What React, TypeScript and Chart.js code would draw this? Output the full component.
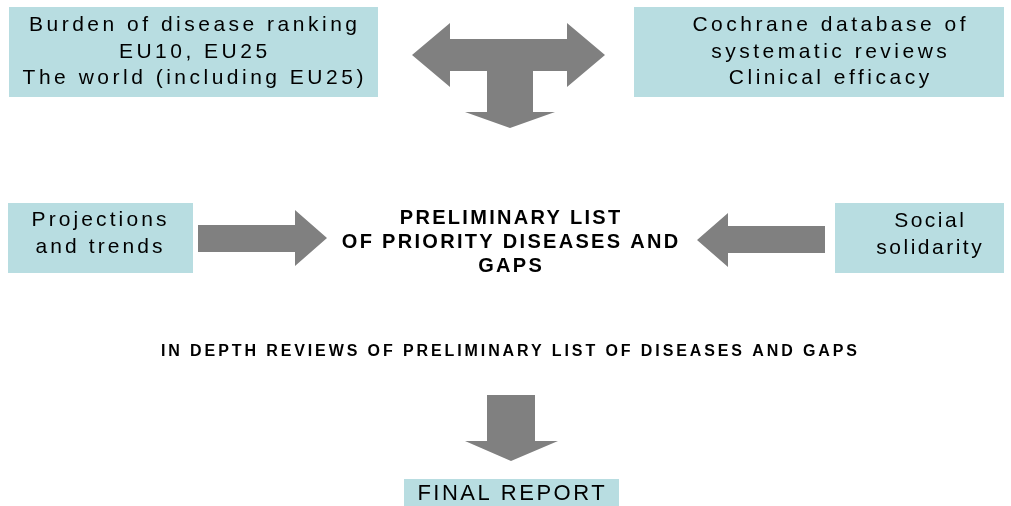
import { useEffect, useRef } from "react";
import { Chart, registerables } from "chart.js";

Chart.register(...registerables);

// ---- content (text of the diagram) ----
const topLeftLines = ["Burden of disease ranking", "EU10, EU25", "The world (including EU25)"];
const topRightLines = ["Cochrane database of", "systematic reviews", "Clinical efficacy"];
const midLeftLines = ["Projections", "and trends"];
const midRightLines = ["Social", "solidarity"];
const centerLines = ["PRELIMINARY LIST", "OF PRIORITY DISEASES AND", "GAPS"];
const reviewLines = ["IN DEPTH REVIEWS OF PRELIMINARY LIST OF DISEASES AND GAPS"];
const finalLines = ["FINAL REPORT"];

// ---- layout (diagram coordinates, 1011 x 506 space) ----
const W = 1011;
const H = 506;
const BOX_FILL = "#B8DDE1";
const ARROW_FILL = "#808080";

type Box = { x0: number; y0: number; x1: number; y1: number; fill: boolean };
type TextBlock = { lines: string[]; cx: number; ys: number[]; font: string; spacing: number; box?: Box };

const blocks: TextBlock[] = [
  { lines: topLeftLines, cx: 193, ys: [25, 52, 78], font: "21px 'Liberation Sans', Arial, sans-serif", spacing: 3.5, box: { x0: 9, y0: 7, x1: 378, y1: 97, fill: true } },
  { lines: topRightLines, cx: 829, ys: [25, 52, 78], font: "21px 'Liberation Sans', Arial, sans-serif", spacing: 3.5, box: { x0: 634, y0: 7, x1: 1004, y1: 97, fill: true } },
  { lines: midLeftLines, cx: 99, ys: [220, 247], font: "21px 'Liberation Sans', Arial, sans-serif", spacing: 3.1, box: { x0: 8, y0: 203, x1: 193, y1: 273, fill: true } },
  { lines: midRightLines, cx: 929, ys: [221, 248], font: "21px 'Liberation Sans', Arial, sans-serif", spacing: 2.5, box: { x0: 835, y0: 203, x1: 1004, y1: 273, fill: true } },
  { lines: centerLines, cx: 510, ys: [218, 242, 266], font: "bold 20px 'Liberation Sans', Arial, sans-serif", spacing: 2.3 },
  { lines: reviewLines, cx: 509, ys: [352], font: "bold 16px 'Liberation Sans', Arial, sans-serif", spacing: 2.9 },
  { lines: finalLines, cx: 511, ys: [494], font: "22px 'Liberation Sans', Arial, sans-serif", spacing: 2.5, box: { x0: 404, y0: 479, x1: 619, y1: 506, fill: true } },
];

const arrows: number[][][] = [
  // T-shaped double arrow with downward stem
  [
    [412, 55], [450, 23], [450, 39], [567, 39], [567, 23], [605, 55], [567, 87], [567, 71],
    [533, 71], [533, 112], [555, 112], [510, 128], [465, 112], [487, 112], [487, 71],
    [450, 71], [450, 87],
  ],
  // right-pointing arrow
  [[198, 225], [295, 225], [295, 210], [327, 238], [295, 266], [295, 252], [198, 252]],
  // left-pointing arrow
  [[825, 226], [728, 226], [728, 213], [697, 240], [728, 267], [728, 253], [825, 253]],
  // down arrow
  [[487, 395], [535, 395], [535, 441], [558, 441], [511, 461], [465, 441], [487, 441]],
];

const diagramPlugin = {
  id: "diagram",
  afterDatasetsDraw(chart: any) {
    const ctx = chart.ctx as CanvasRenderingContext2D;
    const xs = chart.scales.x;
    const ys = chart.scales.y;
    const px = (v: number) => xs.getPixelForValue(v);
    const py = (v: number) => ys.getPixelForValue(v);
    ctx.save();
    // boxes
    for (const b of blocks) {
      if (!b.box) continue;
      ctx.fillStyle = BOX_FILL;
      const x0 = px(b.box.x0), x1 = px(b.box.x1), y0 = py(b.box.y0), y1 = py(b.box.y1);
      ctx.fillRect(x0, y0, x1 - x0, y1 - y0);
    }
    // arrows
    ctx.fillStyle = ARROW_FILL;
    for (const a of arrows) {
      ctx.beginPath();
      a.forEach((p, i) => {
        if (i === 0) ctx.moveTo(px(p[0]), py(p[1]));
        else ctx.lineTo(px(p[0]), py(p[1]));
      });
      ctx.closePath();
      ctx.fill();
    }
    // text
    ctx.fillStyle = "#000000";
    ctx.textAlign = "center";
    ctx.textBaseline = "middle";
    for (const b of blocks) {
      ctx.font = b.font;
      (ctx as any).letterSpacing = `${b.spacing}px`;
      b.lines.forEach((line, i) => {
        ctx.fillText(line, px(b.cx) + b.spacing / 2, py(b.ys[i]));
      });
    }
    ctx.restore();
  },
};

export default function App() {
  const ref = useRef<HTMLCanvasElement | null>(null);
  useEffect(() => {
    if (!ref.current) return;
    const chart = new Chart(ref.current, {
      type: "scatter",
      data: { datasets: [{ data: [], pointRadius: 0 }] },
      options: {
        animation: false,
        responsive: true,
        maintainAspectRatio: false,
        layout: { padding: 0 },
        plugins: { legend: { display: false }, tooltip: { enabled: false } },
        scales: {
          x: { type: "linear", min: 0, max: W, display: false },
          y: { type: "linear", min: 0, max: H, reverse: true, display: false },
        },
      },
      plugins: [diagramPlugin],
    });
    return () => chart.destroy();
  }, []);
  return (
    <div style={{ position: "fixed", left: 0, top: 0, width: W, height: H, background: "#ffffff" }}>
      <canvas ref={ref} />
    </div>
  );
}
